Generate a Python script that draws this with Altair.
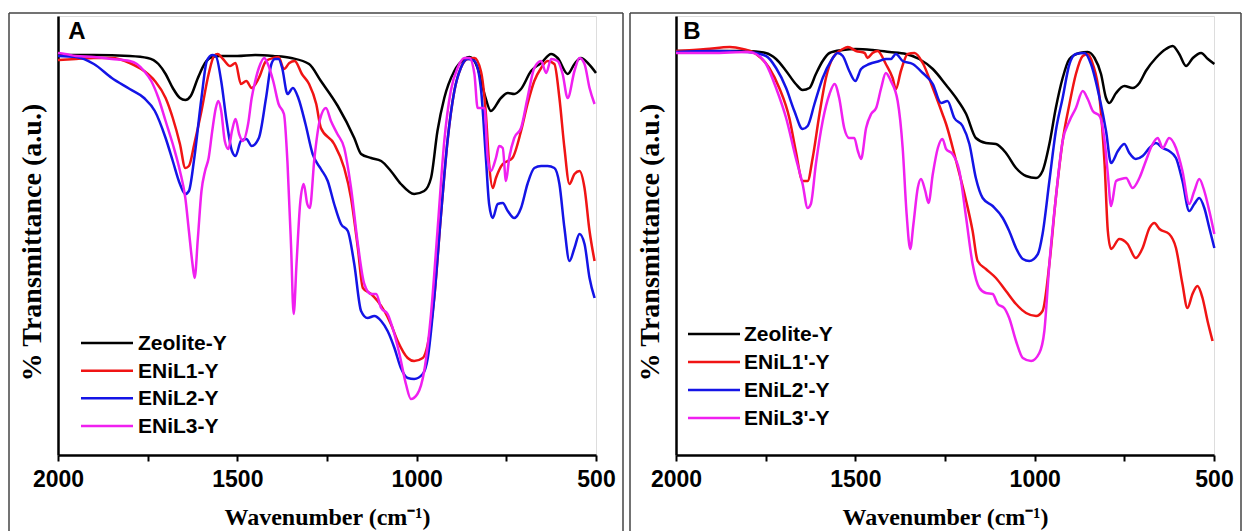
import altair as alt
import pandas as pd

# ---------------- Panel A ----------------
A_names = ["Zeolite-Y", "ENiL1-Y", "ENiL2-Y", "ENiL3-Y"]

A_zeo_wn = [2000,1900,1800,1750,1720,1700,1680,1660,1645,1630,1610,1590,1570,1550,1500,1450,1400,1350,1300,1267,
            1220,1174,1155,1127,1099,1072,1044,1007,979,960,942,923,895,867,853,830,811,793,765,746,
            728,709,681,653,625,607,579,560,542,523,500]
A_zeo_T = [400,400,399,397,391,381,367,357,355,359,377,392,398,399,399,400,399,397,391,374,
           349,317,301,297,294,284,271,261,264,277,324,357,384,396,398,387,361,344,357,362,
           361,366,384,392,401,397,381,391,397,392,382]

A_l1_wn = [2000,1950,1900,1850,1800,1760,1730,1700,1680,1660,1645,1635,1620,1600,1580,1565,1555,1540,1520,1505,
           1490,1475,1460,1440,1420,1400,1385,1370,1355,1340,1320,1300,1280,1267,1230,1202,1183,1164,1150,1127,
           1109,1090,1072,1053,1025,1007,983,969,951,932,914,895,877,858,839,821,807,798,788,779,
           760,746,733,709,691,672,653,635,616,602,588,574,560,546,532,518,504]
A_l1_T = [395,396,397,397,392,384,374,357,337,311,287,289,311,344,381,399,401,396,389,392,
          371,374,367,377,394,397,398,386,392,394,381,371,351,327,311,287,257,207,167,161,
          154,144,131,114,97,94,97,111,157,241,314,364,387,396,397,384,341,291,267,277,
          291,294,297,324,351,374,387,394,391,357,307,271,281,284,267,224,194]

A_l2_wn = [2000,1950,1900,1850,1800,1760,1730,1700,1680,1660,1645,1635,1620,1600,1585,1570,1560,1545,1530,1515,
           1505,1490,1475,1460,1440,1420,1405,1395,1385,1375,1360,1345,1330,1310,1290,1267,1248,1230,1211,1192,
           1174,1155,1137,1118,1099,1081,1062,1044,1025,1007,983,969,951,932,914,895,877,858,839,821,
           807,798,788,774,760,746,728,709,691,672,653,635,616,602,588,574,560,546,532,518,504]
A_l2_T = [399,398,391,377,366,357,344,317,294,271,261,264,297,357,394,400,399,374,334,304,
          299,314,316,309,317,357,391,396,396,387,361,367,357,331,301,286,274,251,231,224,
          191,144,137,139,134,124,107,87,77,76,81,97,157,241,314,364,387,396,394,367,
          297,251,237,251,252,244,237,247,271,287,289,289,287,271,227,194,207,221,211,177,157]

A_l3_wn = [2000,1980,1950,1900,1850,1800,1780,1760,1740,1720,1700,1680,1660,1645,1635,1625,1619,1610,1600,1590,
           1580,1570,1560,1553,1545,1535,1525,1515,1505,1495,1485,1470,1460,1450,1440,1425,1415,1400,1385,1370,
           1360,1350,1343,1335,1325,1315,1305,1298,1285,1270,1253,1239,1221,1202,1183,1164,1146,1127,1113,1099,
           1081,1067,1048,1030,1016,998,979,960,942,923,905,886,867,853,839,830,811,802,793,779,
           770,760,751,742,728,709,691,672,653,639,625,607,593,579,560,546,532,518,504]
A_l3_T = [402,401,399,398,396,394,391,384,374,357,334,311,284,257,224,191,177,217,264,284,
          297,324,347,354,344,314,306,324,336,321,314,331,357,374,387,397,391,374,351,341,
          291,207,141,191,251,271,251,247,297,335,347,334,321,307,267,211,171,161,161,147,
          141,127,101,71,56,61,84,141,224,314,364,387,397,397,381,347,347,297,284,297,
          309,307,274,297,317,327,357,387,394,382,396,394,381,357,384,397,391,367,351]

# ---------------- Panel B ----------------
B_names = ["Zeolite-Y", "ENiL1'-Y", "ENiL2'-Y", "ENiL3'-Y"]

B_zeo_wn = [2000,1900,1800,1750,1721,1693,1666,1647,1628,1610,1591,1572,1535,1498,1452,1405,1359,1322,1284,1247,
            1219,1191,1164,1136,1108,1080,1052,1024,996,978,959,941,922,903,875,852,833,815,801,792,
            773,750,727,708,690,662,634,615,597,578,559,536,517,499]
B_zeo_T = [404,404,404,402,396,384,371,365,367,381,394,402,405,406,405,403,401,396,386,370,
           357,341,317,312,311,302,287,279,277,284,311,347,377,396,402,403,397,381,357,352,
           362,369,367,372,384,397,406,409,401,389,397,402,396,391]

B_l1_wn = [2000,1916,1850,1814,1777,1740,1712,1684,1666,1647,1633,1619,1600,1582,1563,1535,1521,1498,1474,1466,
           1452,1438,1415,1396,1387,1373,1354,1335,1312,1284,1257,1247,1219,1191,1173,1159,1136,1108,1080,1052,
           1024,996,978,959,941,922,903,885,866,852,838,819,805,796,787,764,741,718,699,680,
           666,652,625,606,588,574,560,546,532,518,504]
B_l1_T = [404,406,408,406,401,387,367,337,304,274,274,297,341,377,397,406,408,404,402,397,
          402,404,391,377,366,384,401,402,392,367,341,331,294,254,224,194,186,177,164,151,
          142,139,144,191,257,314,351,381,399,401,391,357,291,224,206,216,211,197,207,227,
          232,226,221,207,171,147,161,169,157,134,114]

B_l2_wn = [2000,1900,1800,1749,1721,1693,1670,1647,1633,1614,1591,1568,1549,1535,1517,1500,1484,1461,1433,1415,
           1401,1387,1368,1340,1312,1284,1261,1243,1224,1201,1182,1164,1145,1117,1089,1071,1052,1033,1015,991,
           978,959,941,922,903,885,861,843,819,801,787,768,750,736,718,699,680,662,643,625,
           606,588,569,555,541,527,513,499]
B_l2_T = [403,404,403,399,387,367,344,326,329,351,377,394,402,399,384,374,386,391,394,396,
          396,401,394,391,382,371,352,354,337,329,311,277,257,249,237,224,207,196,194,201,
          221,274,324,357,391,401,402,391,357,324,292,304,311,302,296,299,307,312,307,304,
          297,274,244,251,257,247,227,207]

B_l3_wn = [2000,1900,1800,1777,1749,1721,1693,1666,1647,1633,1624,1610,1591,1572,1558,1545,1531,1517,1503,1493,
           1484,1470,1456,1442,1428,1415,1401,1382,1368,1357,1347,1338,1326,1317,1305,1296,1284,1270,1257,1247,
           1229,1210,1191,1173,1154,1136,1117,1103,1085,1071,1052,1033,1010,987,973,959,941,922,903,885,
           866,852,838,819,805,796,787,773,759,745,727,708,690,671,657,643,625,606,588,569,
           555,541,527,513,499]
B_l3_T = [402,402,403,401,391,367,337,297,271,247,251,291,334,361,371,357,327,317,317,304,
          296,327,341,347,367,382,374,354,307,241,206,231,267,276,264,252,281,307,316,306,
          301,284,237,191,167,162,161,151,147,137,114,97,94,102,124,191,257,314,334,347,
          364,356,344,339,314,281,249,274,276,277,267,277,294,311,317,307,317,307,284,251,
          264,276,264,244,221]

colors = ["#000000", "#f01414", "#1414e6", "#f020f0"]
x_ticks = [2000, 1750, 1500, 1250, 1000, 750, 500]

PLOT_W, PLOT_H = 538, 439


def long_frame(names, wns, ts):
    rows = []
    for k, (name, w, t) in enumerate(zip(names, wns, ts)):
        for a, b in zip(w, t):
            rows.append({"series": name, "wn": a, "T": b, "k": k})
    return pd.DataFrame(rows)


def panel(names, wns, ts, letter, letter_x, leg_x0, leg_x1, leg_rows, lft, rgt):
    df = long_frame(names, wns, ts)
    color_scale = alt.Scale(domain=names, range=colors)
    lines = alt.Chart(df).mark_line(strokeWidth=2.5, interpolate="monotone").encode(
        x=alt.X("wn:Q",
                scale=alt.Scale(domain=[2000, 500], nice=False, zero=False),
                axis=alt.Axis(values=x_ticks, format="d",
                              labelExpr="datum.value % 500 == 0 ? datum.label : ''",
                              grid=False, labelFlush=False, labelOverlap=False,
                              labelFont="Liberation Sans", labelFontWeight="bold", labelFontSize=23,
                              labelColor="black", labelPadding=7,
                              tickColor="black", tickSize=6, tickWidth=2,
                              domainColor="black", domainWidth=2.5,
                              title="Wavenumber (cm⁻¹)", titleFont="Liberation Serif",
                              titleFontWeight="bold", titleFontSize=24, titleColor="black",
                              titlePadding=14)),
        y=alt.Y("T:Q",
                scale=alt.Scale(domain=[0, 439], nice=False, zero=False),
                axis=alt.Axis(labels=False, ticks=False, grid=False,
                              domainColor="black", domainWidth=2.5,
                              title="% Transmittance (a.u.)", titleFont="Liberation Serif",
                              titleFontWeight="bold", titleFontSize=28, titleColor="black",
                              titlePadding=12, titleY=226)),
        color=alt.Color("series:N", scale=color_scale, legend=None),
        order=alt.Order("k:Q"),
    )

    # legend drawn inside the plot, lower left
    leg_df = pd.DataFrame({"series": names, "row": list(range(len(names)))})
    row_scale = alt.Scale(domain=[0, len(names) - 1], range=leg_rows)
    leg_base = alt.Chart(leg_df)
    leg_lines = leg_base.mark_rule(strokeWidth=2.5).encode(
        x=alt.value(leg_x0), x2=alt.value(leg_x0 + 52),
        y=alt.Y("row:Q", scale=row_scale, axis=None),
        color=alt.Color("series:N", scale=color_scale, legend=None),
    )
    leg_text = leg_base.mark_text(align="left", baseline="middle", font="Liberation Sans",
                                  fontWeight="bold", fontSize=21, color="black", dy=1).encode(
        x=alt.value(leg_x1),
        y=alt.Y("row:Q", scale=row_scale, axis=None),
        text="series:N",
    )
    legend = alt.layer(leg_lines, leg_text)

    dummy = alt.Chart(pd.DataFrame({"d": [0]}))
    frame_style = dict(color="#444444", strokeWidth=1.5)
    left_rule = dummy.mark_rule(**frame_style).encode(x=alt.value(lft), y=alt.value(-3), y2=alt.value(516))
    right_rule = dummy.mark_rule(**frame_style).encode(x=alt.value(rgt), y=alt.value(-3), y2=alt.value(516))
    top_rule = dummy.mark_rule(**frame_style).encode(x=alt.value(lft), x2=alt.value(rgt), y=alt.value(-3))
    label = dummy.mark_text(text=letter, font="Liberation Sans", fontWeight="bold", fontSize=24,
                            align="center", baseline="middle", color="black").encode(
        x=alt.value(letter_x), y=alt.value(16))
    return alt.layer(left_rule, right_rule, top_rule, lines, label, legend).resolve_scale(
        y="independent").properties(width=PLOT_W, height=PLOT_H)


panelA = panel(A_names, [A_zeo_wn, A_l1_wn, A_l2_wn, A_l3_wn], [A_zeo_T, A_l1_T, A_l2_T, A_l3_T],
               "A", 19, 23, 80, [327, 410], -49, 565)
panelB = panel(B_names, [B_zeo_wn, B_l1_wn, B_l2_wn, B_l3_wn], [B_zeo_T, B_l1_T, B_l2_T, B_l3_T],
               "B", 16, 12, 68, [318, 402], -46, 565)

chart = alt.hconcat(panelA, panelB, spacing=80, bounds="flush").resolve_scale(
    color="independent"
).properties(
    padding={"left": 7, "top": 11, "right": 0, "bottom": 0}
).configure_view(stroke="transparent").configure(background="white")

chart.save("out.html", embed_options={"renderer": "svg", "actions": False})
